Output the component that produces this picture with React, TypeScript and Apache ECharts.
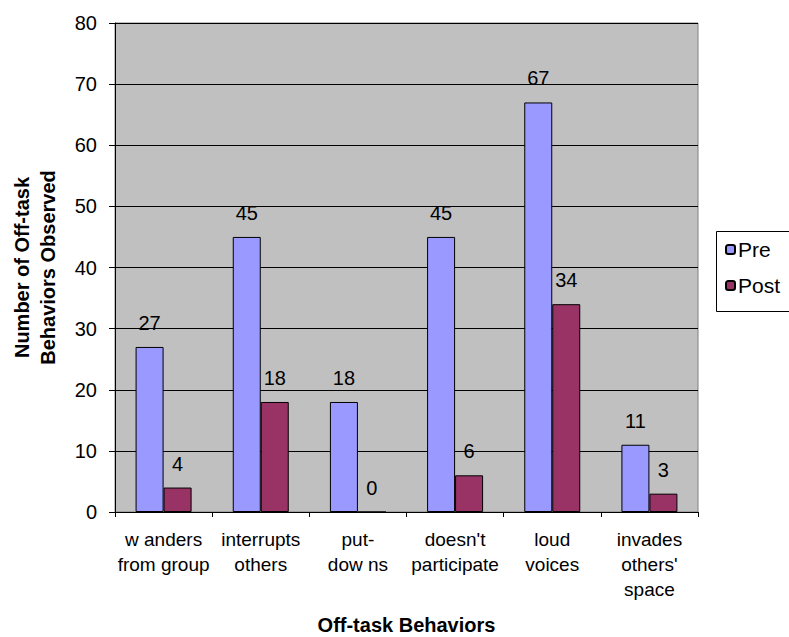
import React, { useEffect, useRef } from "react";
import * as echarts from "echarts";

const categories = [
  "w anders\nfrom group",
  "interrupts\nothers",
  "put-\ndow ns",
  "doesn't\nparticipate",
  "loud\nvoices",
  "invades\nothers'\nspace",
];
const preValues = [27, 45, 18, 45, 67, 11];
const postValues = [4, 18, 0, 6, 34, 3];
const seriesNames = ["Pre", "Post"];
const yTitle = "Number of Off-task\nBehaviors Observed";
const xTitle = "Off-task Behaviors";

const FONT = "Arial, 'Liberation Sans', sans-serif";

export default function App() {
  const ref = useRef<HTMLDivElement>(null);
  useEffect(() => {
    if (!ref.current) return;
    const chart = echarts.init(ref.current, undefined, { renderer: "svg" });
    const labelCfg = {
      show: true,
      position: "top" as const,
      distance: 14,
      color: "#000",
      fontSize: 20,
      fontFamily: FONT,
    };
    chart.setOption({
      animation: false,
      textStyle: { fontFamily: FONT },
      graphic: [
        {
          type: "rect",
          z: -1,
          shape: { x: 716.5, y: 231.5, width: 120, height: 80 },
          style: { fill: "#fff", stroke: "#000", lineWidth: 1 },
        },
      ],
      grid: {
        left: 115,
        right: 91,
        top: 23,
        bottom: 125,
        containLabel: false,
        outerBoundsMode: "none",
        show: true,
        backgroundColor: "#c0c0c0",
        borderColor: "#808080",
        borderWidth: 1,
      },
      legend: {
        orient: "vertical",
        left: 716,
        top: 231,
        padding: [8, 10, 15, 9],
        itemWidth: 9,
        itemHeight: 9,
        itemGap: 15,
        borderWidth: 0,
        textStyle: { fontSize: 21, color: "#000", fontFamily: FONT, padding: [0, 0, 0, -2] },
        data: seriesNames,
      },
      xAxis: {
        type: "category",
        data: categories,
        name: xTitle,
        nameLocation: "middle",
        nameGap: 103,
        nameTextStyle: { fontSize: 20, fontWeight: "bold", color: "#000", fontFamily: FONT },
        axisLine: { lineStyle: { color: "#000", width: 1 } },
        axisTick: { show: true, length: 5, alignWithLabel: false, lineStyle: { color: "#000" } },
        axisLabel: {
          interval: 0,
          margin: 15,
          fontSize: 19,
          lineHeight: 25,
          color: "#000",
          fontFamily: FONT,
        },
        splitLine: { show: false },
      },
      yAxis: {
        type: "value",
        min: 0,
        max: 80,
        interval: 10,
        name: yTitle,
        nameLocation: "middle",
        nameGap: 54,
        nameTextStyle: { fontSize: 20, fontWeight: "bold", color: "#000", fontFamily: FONT, lineHeight: 26 },
        axisLine: { show: true, lineStyle: { color: "#000", width: 1 } },
        axisTick: { show: true, length: 6, lineStyle: { color: "#000" } },
        axisLabel: { margin: 18, fontSize: 20, color: "#000", fontFamily: FONT },
        splitLine: { show: true, lineStyle: { color: "#000", width: 1 } },
      },
      series: [
        {
          name: seriesNames[0],
          type: "bar",
          data: preValues,
          barWidth: 28,
          barGap: "0%",
          itemStyle: { color: "#9999ff", borderColor: "#000", borderWidth: 1 },
          label: labelCfg,
        },
        {
          name: seriesNames[1],
          type: "bar",
          data: postValues,
          barWidth: 28,
          barGap: "0%",
          itemStyle: { color: "#993366", borderColor: "#000", borderWidth: 1 },
          label: labelCfg,
        },
      ],
    });
    return () => chart.dispose();
  }, []);
  return <div ref={ref} style={{ width: 789, height: 637, position: "absolute", left: 0, top: 0 }} />;
}
